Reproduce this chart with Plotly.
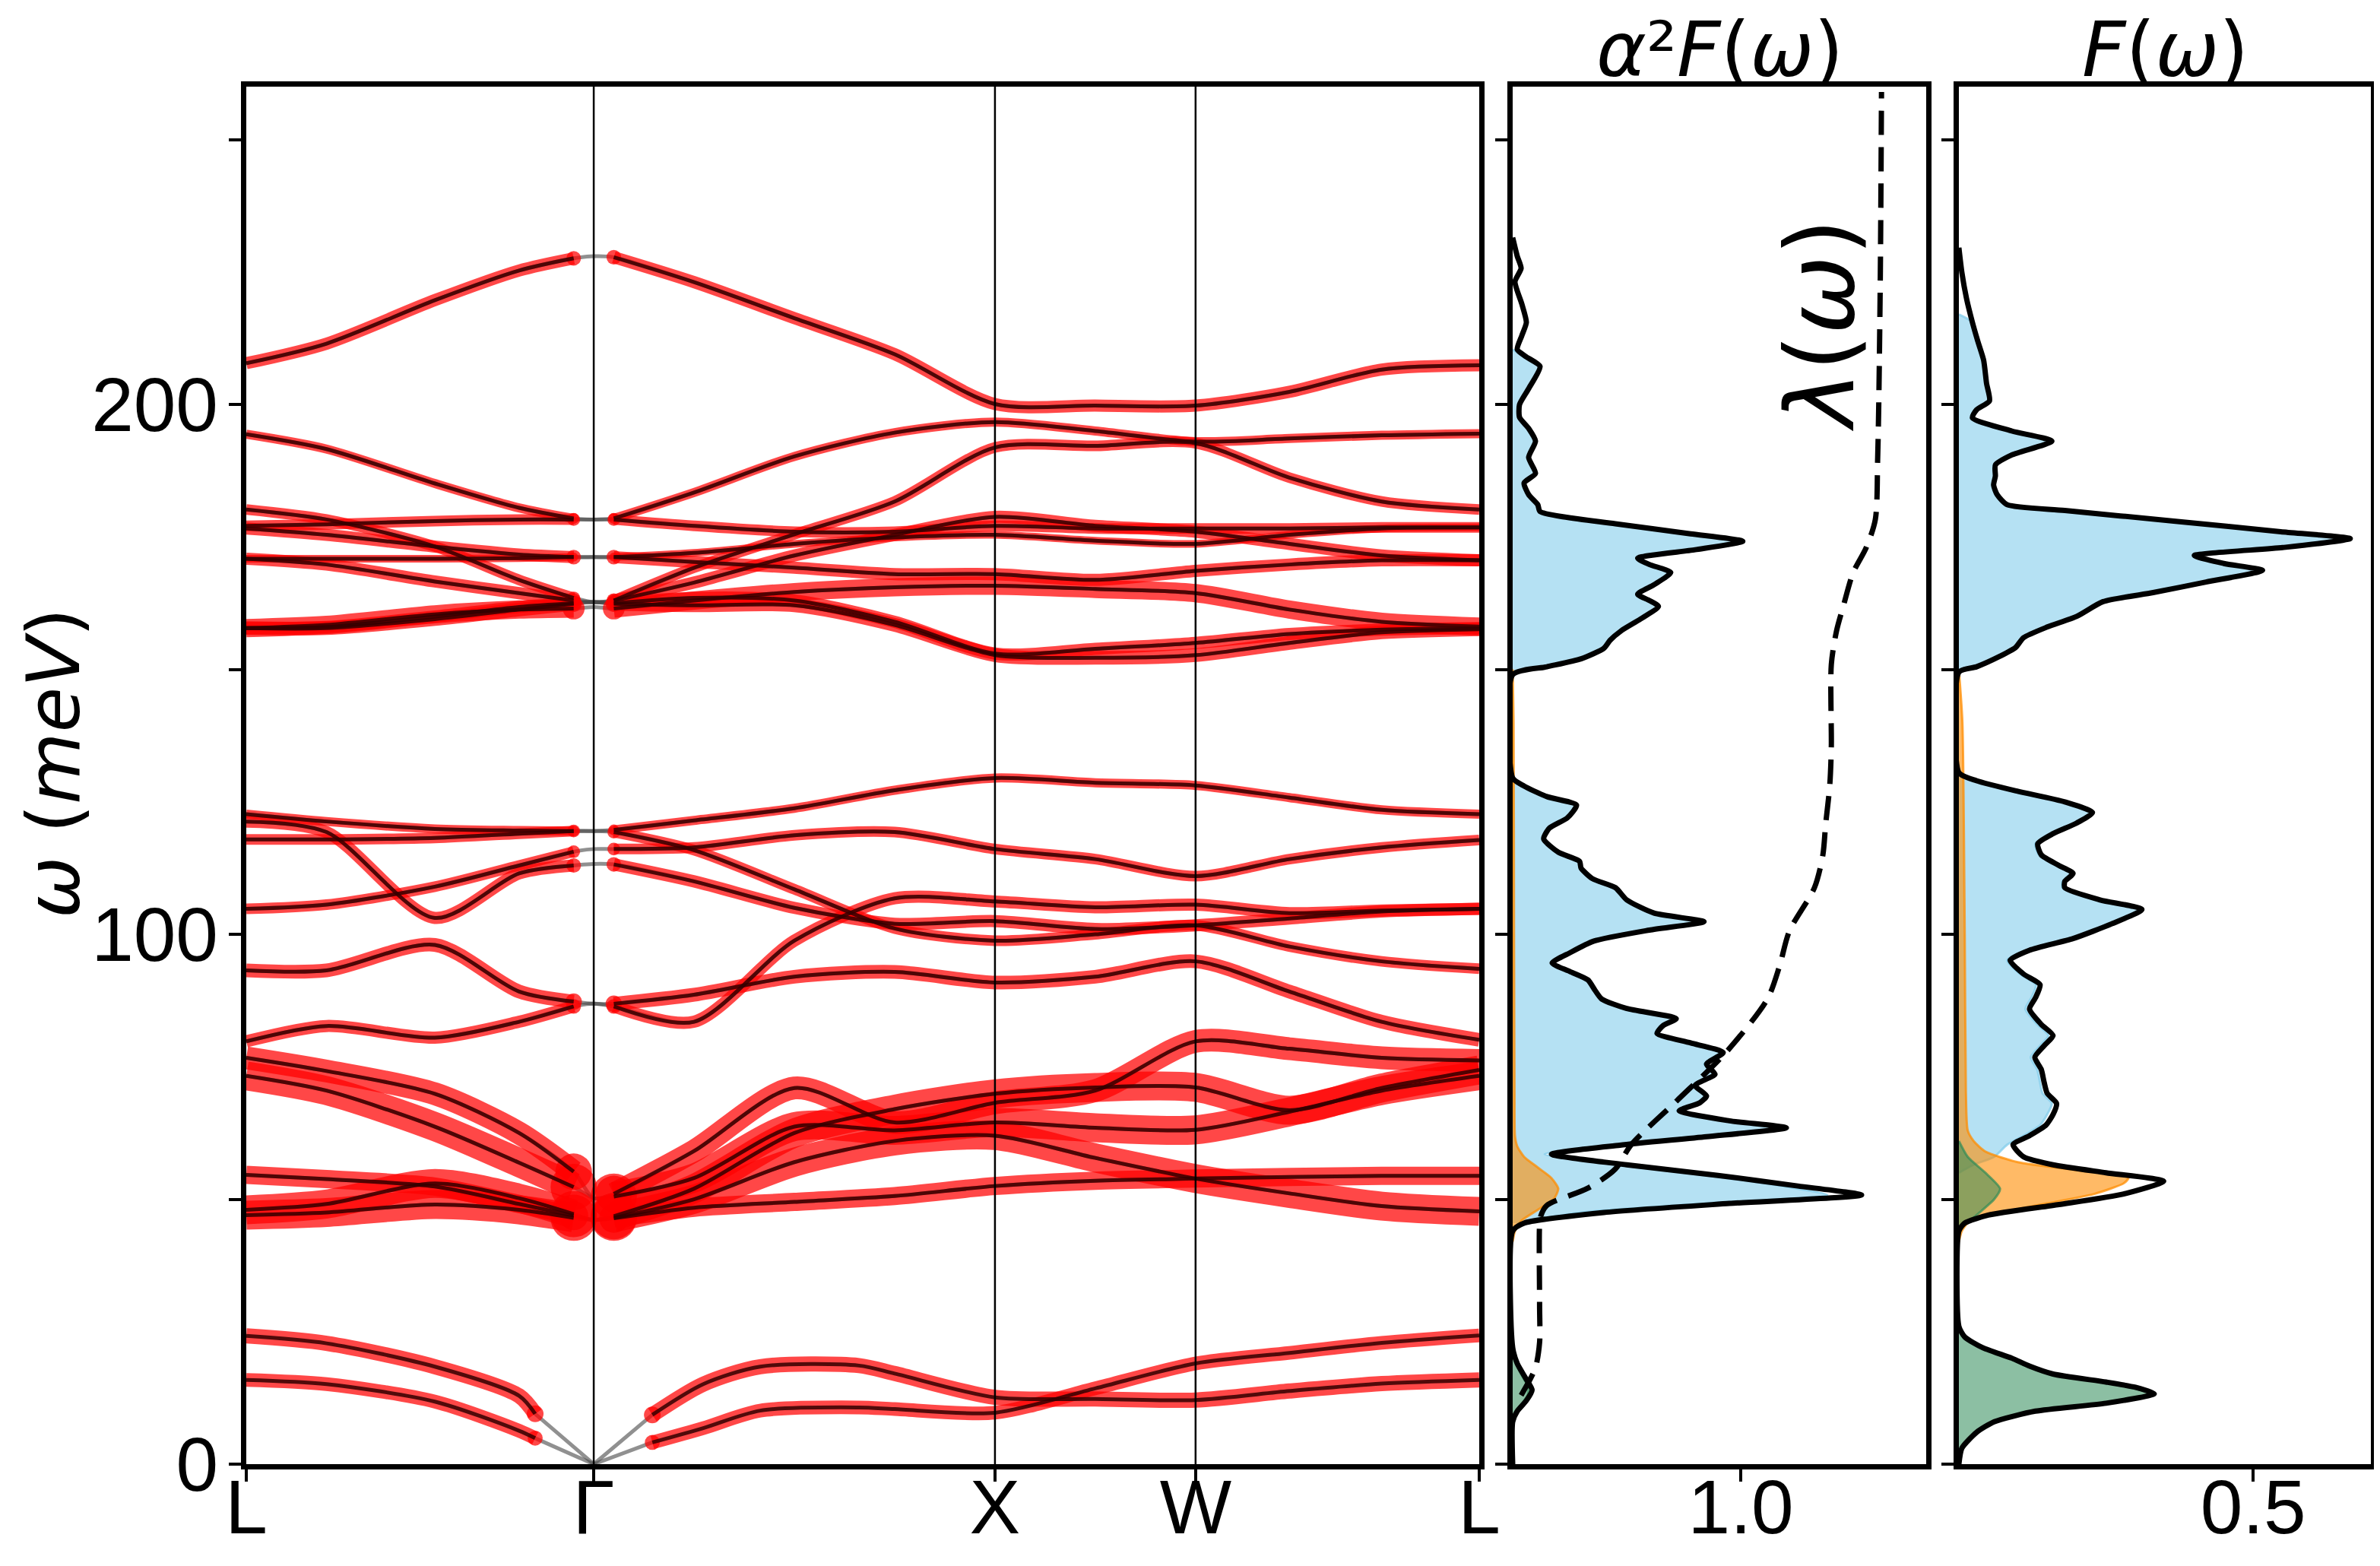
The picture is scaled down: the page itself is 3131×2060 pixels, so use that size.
import plotly.graph_objects as go

# ---------------- data: phonon bands ----------------
K_TICKS = [0.0, 0.866, 1.866, 2.366, 3.073]
K_LABELS = ["L", "Γ", "X", "W", "L"]
K_GAMMA = 0.866
K = [0.0, 0.2, 0.47, 0.68, 0.816, 0.866, 0.916, 1.116, 1.366, 1.616, 1.866, 2.116, 2.366, 2.6, 2.83, 3.073]

BAND_B1 = [207.8, 211.5, 219.7, 225.3, 227.6, 228.0, 227.8, 223.1, 216.3, 209.5, 200.1, 199.8, 199.8, 202.4, 206.6, 207.4]
BAND_B2 = [194.4, 191.6, 185.1, 180.5, 178.5, 178.3, 178.5, 183.4, 190.2, 194.7, 196.7, 195.0, 193.0, 193.6, 194.2, 194.5]
BAND_B3 = [180.2, 178.3, 173.2, 166.9, 163.5, 162.7, 163.0, 169.2, 175.5, 181.7, 191.9, 192.2, 192.7, 186.2, 181.7, 180.2]
BAND_B4 = [177.1, 177.4, 178.0, 178.3, 178.3, 178.3, 178.3, 177.1, 176.0, 176.0, 177.1, 176.6, 176.6, 176.6, 176.8, 176.8]
BAND_B5 = [176.6, 175.4, 173.2, 171.7, 171.2, 171.2, 171.2, 170.3, 169.2, 168.0, 168.0, 166.9, 168.6, 169.8, 170.6, 170.6]
BAND_B6 = [170.9, 170.9, 170.9, 171.0, 171.2, 171.2, 171.2, 172.0, 173.7, 174.9, 175.4, 174.3, 173.7, 175.4, 176.6, 176.8]
BAND_B7 = [170.9, 169.8, 166.6, 164.4, 163.0, 162.7, 163.0, 166.4, 171.5, 175.4, 178.8, 177.1, 176.0, 173.7, 171.5, 170.6]
BAND_B8 = [157.8, 158.4, 160.4, 161.3, 161.5, 161.8, 161.5, 163.0, 164.6, 165.5, 165.8, 165.2, 164.4, 161.3, 159.0, 158.1]
BAND_B9 = [157.8, 157.8, 159.5, 161.3, 162.4, 162.7, 162.4, 162.1, 162.1, 158.4, 152.7, 152.2, 152.7, 155.0, 157.0, 157.6]
BAND_B10 = [157.8, 158.0, 160.0, 161.8, 162.5, 162.7, 162.5, 163.5, 163.0, 159.0, 153.0, 153.9, 155.0, 156.7, 157.5, 157.8]

BAND_M1 = [122.7, 121.3, 119.9, 119.6, 119.5, 119.5, 119.7, 121.5, 123.8, 127.2, 129.5, 128.6, 128.1, 125.8, 123.5, 122.7]
BAND_M2 = [121.3, 119.3, 103.1, 111.5, 113.0, 113.3, 113.2, 110.0, 105.0, 102.0, 102.5, 101.0, 101.7, 103.0, 104.3, 104.8]
BAND_M3 = [117.9, 117.9, 118.2, 119.0, 119.5, 119.5, 119.3, 115.9, 108.5, 101.1, 98.8, 100.0, 101.7, 97.7, 94.9, 93.5]
BAND_M4 = [104.8, 105.6, 109.0, 113.0, 115.6, 116.1, 116.1, 116.4, 118.7, 119.3, 116.1, 114.2, 111.0, 114.2, 116.4, 117.8]
BAND_M5 = [93.2, 93.2, 98.0, 89.2, 87.3, 86.9, 86.9, 88.6, 92.0, 92.9, 90.9, 92.0, 94.9, 89.2, 83.5, 80.1]
BAND_M6 = [79.8, 82.7, 80.5, 83.5, 86.4, 86.9, 86.4, 83.5, 98.8, 106.8, 106.2, 105.1, 105.6, 104.0, 104.5, 104.8]

BAND_F1 = [76.7, 74.2, 69.9, 62.5, 55.2, 50.2, 51.0, 59.1, 71.0, 64.5, 68.2, 70.5, 79.8, 78.4, 76.7, 76.2]
BAND_F2 = [73.3, 70.5, 63.7, 56.9, 52.3, 50.2, 50.5, 54.0, 63.7, 63.0, 64.5, 63.5, 63.1, 66.5, 70.5, 73.3]
BAND_F3 = [54.6, 53.8, 52.4, 49.1, 46.9, 46.1, 46.4, 48.4, 49.5, 50.6, 52.5, 53.5, 53.9, 54.2, 54.4, 54.4]
BAND_F4 = [48.0, 49.1, 53.0, 50.2, 47.2, 46.1, 46.8, 52.0, 62.5, 67.0, 69.9, 71.1, 71.1, 66.8, 71.0, 74.4]
BAND_F5 = [47.0, 47.5, 49.0, 48.0, 46.5, 46.1, 46.5, 50.0, 57.0, 61.0, 62.0, 57.8, 53.9, 51.1, 48.7, 47.7]

OPTICAL_BANDS = [BAND_B1, BAND_B2, BAND_B3, BAND_B4, BAND_B5, BAND_B6, BAND_B7, BAND_B8, BAND_B9, BAND_B10,
                 BAND_M1, BAND_M2, BAND_M3, BAND_M4, BAND_M5, BAND_M6,
                 BAND_F1, BAND_F2, BAND_F3, BAND_F4, BAND_F5]

# acoustic branches (red part away from Gamma, grey part to Gamma)
ACO_K_LEFT = [0.0, 0.2, 0.47, 0.68, 0.72]
ACO_K_RIGHT = [1.012, 1.139, 1.281, 1.527, 1.616, 1.866, 2.116, 2.366, 2.6, 2.83, 3.073]
ACO_GAMMA = 0.0
ACO_A1_LEFT = [24.2, 22.8, 18.4, 12.9, 9.5]
ACO_A1_RIGHT = [9.3, 15.1, 18.4, 18.6, 17.1, 12.6, 12.3, 12.1, 13.8, 15.2, 15.9]
ACO_A2_LEFT = [15.9, 15.1, 11.8, 6.3, 4.9]
ACO_A2_RIGHT = [4.1, 6.8, 10.1, 10.7, 10.4, 9.7, 14.3, 19.0, 21.0, 22.9, 24.3]

# ---------------- data: alpha^2 F(omega) ----------------
A2F_W = [0, 8, 10, 12, 14, 16, 19, 22, 44, 45.5, 47.5, 49.2, 50.8, 52.5, 54.5, 56.5, 58.5, 60.2, 61.8, 63.5,
         64.8, 66.7, 68.2, 69.5, 71.5, 73.6, 75.5, 77.7, 79.5, 81.3, 82.8, 84.1, 86, 87.8, 89.5, 91.4, 93,
         94.6, 96.5, 98.7, 100.8, 102.4, 104, 106.5, 108.8, 110.5, 112.5, 113.8, 115.5, 118, 120, 122, 124.4,
         126, 128, 129.5, 149, 150.5, 152, 154, 155.5, 157.3, 159.5, 161.9, 163, 164.2, 166, 168.3, 169.8,
         171, 172.6, 174.2, 175.6, 177.5, 179.8, 181.1, 183, 185.2, 187, 190, 193.1, 195.5, 197.6, 200, 203,
         207.2, 209, 210.4, 213, 215.5, 219, 223.2, 225.7, 228, 231.5]
A2F_TOT = [0, 0, 0.02, 0.06, 0.085, 0.06, 0.02, 0, 0, 0.05, 0.4, 0.95, 1.53, 1.25, 0.9, 0.5, 0.17, 0.47, 0.85, 1.2,
           0.95, 0.73, 0.82, 0.85, 0.80, 0.887, 0.85, 0.923, 0.78, 0.633, 0.66, 0.717, 0.5, 0.39, 0.36, 0.33, 0.25,
           0.173, 0.25, 0.354, 0.6, 0.839, 0.62, 0.5, 0.451, 0.35, 0.30, 0.293, 0.2, 0.136, 0.16, 0.24, 0.28,
           0.15, 0.05, 0, 0, 0.15, 0.3, 0.4, 0.427, 0.476, 0.56, 0.639, 0.6, 0.548, 0.62, 0.693, 0.6,
           0.548, 0.8, 1.009, 0.78, 0.45, 0.12, 0.11, 0.07, 0.05, 0.1, 0.07, 0.1, 0.07, 0.03, 0.03, 0.07,
           0.12, 0.06, 0.02, 0.04, 0.06, 0.04, 0.01, 0.037, 0.02, 0]
A2F_BLUE_W = [45.5, 47.5, 49.2, 50.8, 52.5, 54.5, 56.5, 58.5, 60.2, 61.8, 63.5, 64.8, 66.7, 68.2, 69.5, 71.5, 73.6,
              75.5, 77.7, 79.5, 81.3, 82.8, 84.1, 86, 87.8, 89.5, 91.4, 93, 94.6, 96.5, 98.7, 100.8, 102.4, 104,
              106.5, 108.8, 110.5, 112.5, 113.8, 115.5, 118, 120, 122, 124.4, 126, 128, 129.5, 149, 150.5, 152,
              154, 155.5, 157.3, 159.5, 161.9, 163, 164.2, 166, 168.3, 169.8, 171, 172.6, 174.2, 175.6, 177.5,
              179.8, 181.1, 183, 185.2, 187, 190, 193.1, 195.5, 197.6, 200, 203, 207.2, 209, 210.4]
A2F_BLUE = [0.02, 0.3, 0.85, 1.38, 1.18, 0.85, 0.46, 0.14, 0.45, 0.83, 1.18, 0.94, 0.72, 0.81, 0.84, 0.79, 0.88,
            0.84, 0.91, 0.77, 0.625, 0.65, 0.71, 0.49, 0.385, 0.355, 0.325, 0.245, 0.17, 0.245, 0.35, 0.595,
            0.83, 0.615, 0.495, 0.447, 0.345, 0.296, 0.29, 0.197, 0.133, 0.157, 0.237, 0.277, 0.147, 0.048, 0,
            0, 0.15, 0.3, 0.4, 0.427, 0.476, 0.56, 0.639, 0.6, 0.548, 0.62, 0.693, 0.6, 0.548, 0.8, 1.0, 0.775,
            0.445, 0.117, 0.107, 0.067, 0.047, 0.097, 0.067, 0.097, 0.067, 0.027, 0.027, 0.067, 0.117, 0.05, 0]
A2F_OR_W = [42, 44, 46, 48, 50, 52, 54, 56, 58, 60, 62, 70, 100, 140, 150]
A2F_OR = [0, 0.01, 0.04, 0.11, 0.18, 0.2, 0.17, 0.11, 0.05, 0.02, 0.01, 0.008, 0.006, 0.004, 0]
A2F_GR_W = [6, 9, 11, 13, 14.5, 16, 18, 20, 22]
A2F_GR = [0, 0.01, 0.035, 0.065, 0.07, 0.05, 0.025, 0.008, 0]

LAMBDA_W = [13.0, 15.5, 18.2, 23, 30, 45.3, 46.8, 48.8, 52.1, 55.7, 60.3, 68.6, 77.8, 87.8, 94, 100.6, 108.8,
            115, 120.7, 128, 135.3, 150.9, 157.3, 162, 168.3, 173, 178.3, 189.4, 200, 225, 259]
LAMBDA = [0.037, 0.07, 0.1, 0.118, 0.118, 0.118, 0.123, 0.149, 0.33, 0.45, 0.52, 0.72, 0.937, 1.117, 1.17, 1.213,
          1.323, 1.36, 1.372, 1.39, 1.397, 1.397, 1.42, 1.45, 1.493, 1.55, 1.59, 1.60, 1.605, 1.612, 1.617]

# ---------------- data: F(omega) ----------------
F_W = [0, 3, 6, 8, 10, 11.5, 13.3, 14.5, 15.5, 17, 18.5, 20, 22, 24, 26, 44, 45.5, 47, 49, 51, 53.4, 55, 56.5,
       58, 60.3, 62, 64, 66, 68.1, 70, 72, 74.5, 76.8, 79, 80.9, 83, 85.9, 88, 90.5, 92.5, 95.1, 97, 99.2, 102,
       104.7, 106.5, 108.8, 110, 111.5, 113, 115, 117.1, 119, 121, 123, 125, 127, 129, 130.5, 149.5, 150.5,
       152.5, 154.1, 156, 158, 160, 162.8, 164.5, 166.5, 168.7, 170, 171.5, 173, 174.7, 176, 178, 180, 181.1,
       183, 184.8, 186.5, 188.6, 190.5, 193.1, 195, 197.5, 199, 200.7, 204, 208.4, 212, 215.5, 220, 225, 229.6]
F_TOT = [0, 0.005, 0.03, 0.06, 0.13, 0.25, 0.332, 0.3, 0.25, 0.16, 0.12, 0.09, 0.04, 0.01, 0, 0, 0.01, 0.05,
         0.17, 0.28, 0.348, 0.25, 0.16, 0.11, 0.092, 0.12, 0.148, 0.16, 0.166, 0.15, 0.145, 0.14, 0.129, 0.145,
         0.16, 0.14, 0.12, 0.13, 0.138, 0.11, 0.087, 0.12, 0.194, 0.26, 0.311, 0.24, 0.18, 0.18, 0.194, 0.17,
         0.14, 0.134, 0.16, 0.2, 0.227, 0.18, 0.1, 0.03, 0, 0, 0.03, 0.07, 0.096, 0.11, 0.15, 0.2, 0.245, 0.33,
         0.42, 0.516, 0.45, 0.40, 0.55, 0.665, 0.547, 0.365, 0.18, 0.082, 0.065, 0.059, 0.062, 0.062, 0.09,
         0.158, 0.09, 0.023, 0.03, 0.052, 0.047, 0.042, 0.032, 0.023, 0.013, 0.005, 0]
F_BLUE_W = [55, 56.5, 58, 60.3, 62, 64, 66, 68.1, 70, 72, 74.5, 76.8, 79, 80.9, 83, 85.9, 88, 90.5, 92.5, 95.1,
            97, 99.2, 102, 104.7, 106.5, 108.8, 110, 111.5, 113, 115, 117.1, 119, 121, 123, 125, 127, 129, 130.5,
            149.5, 150.5, 152.5, 154.1, 156, 158, 160, 162.8, 164.5, 166.5, 168.7, 170, 171.5, 173, 174.7, 176,
            178, 180, 181.1, 183, 184.8, 186.5, 188.6, 190.5, 193.1, 195, 197.5, 199, 200.7, 204, 208.4, 212,
            215.5, 217]
F_BLUE = [0, 0.025, 0.06, 0.082, 0.11, 0.138, 0.15, 0.158, 0.142, 0.138, 0.133, 0.122, 0.138, 0.152, 0.133,
          0.113, 0.123, 0.131, 0.104, 0.082, 0.115, 0.19, 0.256, 0.307, 0.236, 0.176, 0.176, 0.19, 0.166, 0.136,
          0.13, 0.156, 0.196, 0.223, 0.176, 0.096, 0.027, 0, 0, 0.03, 0.07, 0.096, 0.11, 0.15, 0.2, 0.245, 0.33,
          0.42, 0.516, 0.45, 0.40, 0.55, 0.665, 0.547, 0.365, 0.18, 0.082, 0.065, 0.059, 0.062, 0.062, 0.09,
          0.158, 0.09, 0.023, 0.03, 0.052, 0.047, 0.042, 0.032, 0.023, 0]
F_OR_W = [42, 44, 45.5, 47, 49, 51, 53, 54, 55.5, 57, 59, 61, 63, 70, 100, 140, 150]
F_OR = [0, 0.005, 0.015, 0.05, 0.14, 0.23, 0.28, 0.288, 0.2, 0.1, 0.045, 0.025, 0.015, 0.012, 0.01, 0.006, 0]
F_GR_W = [0, 3, 6, 8, 10, 11.5, 13.3, 14.5, 15.5, 17, 18.5, 20, 22, 24, 26, 44, 47, 50, 52, 55, 58, 61]
F_GR = [0, 0.005, 0.03, 0.06, 0.13, 0.25, 0.325, 0.29, 0.24, 0.155, 0.115, 0.085, 0.038, 0.01, 0, 0, 0.03,
        0.06, 0.07, 0.045, 0.015, 0]

Y_TICKS = [0, 100, 200]
Y_TICK_TEXT = ["0", "100", "200"]
Y_MINOR_TICKS = [50, 150, 250]

# ---------------- styles ----------------
OPT_WIDTHS = [16, 12, 14, 14, 16, 10, 16, 24, 18, 16,
              12, 16, 14, 14, 18, 16,
              30, 38, 24, 38, 38]
CAP_SCALE = [1.2] * 16 + [1.6] * 5
ACO_WIDTHS = [20, 18]
RED = "rgba(255,0,0,0.72)"
DARK = "rgba(50,0,0,0.85)"
GREY = "rgba(70,70,70,0.6)"
BLUE_F = "rgba(135,206,235,0.62)"
ORANGE_F = "rgba(255,140,0,0.6)"
GREEN_F = "rgba(46,139,87,0.55)"
TICK_FONT = dict(family="Liberation Sans, Arial, sans-serif", size=100, color="black")
MATH_FONT = dict(family="DejaVu Sans, sans-serif", size=100, color="black")

# page geometry: the browser's default 8px body margin offsets the figure
PAGE_W, PAGE_H, BODY_MARGIN = 3131, 2060, 8
W_PX, H_PX = PAGE_W - BODY_MARGIN, PAGE_H - BODY_MARGIN


def fx(p):
    return (p - BODY_MARGIN) / W_PX


def fy(p):
    return (PAGE_H - p) / H_PX


fig = go.Figure()
gi = K.index(K_GAMMA)


def gapped(seq):
    return list(seq[:gi]) + [None] + list(seq[gi + 1:])


SPL = dict(shape="spline", smoothing=0.8)

# grey underlay of every band (visible near Gamma)
for band in OPTICAL_BANDS:
    fig.add_trace(go.Scatter(x=K, y=band, mode="lines", line=dict(color=GREY, width=5, **SPL),
                             hoverinfo="skip"))
for left, right in [(ACO_A1_LEFT, ACO_A1_RIGHT), (ACO_A2_LEFT, ACO_A2_RIGHT)]:
    fig.add_trace(go.Scatter(x=[ACO_K_LEFT[-1], K_GAMMA, ACO_K_RIGHT[0]],
                             y=[left[-1], ACO_GAMMA, right[0]], mode="lines",
                             line=dict(color=GREY, width=5), hoverinfo="skip"))

# red fat bands with round ends next to Gamma
for band, w, cs in zip(OPTICAL_BANDS, OPT_WIDTHS, CAP_SCALE):
    fig.add_trace(go.Scatter(x=gapped(K), y=gapped(band), mode="lines", connectgaps=False,
                             line=dict(color=RED, width=w, **SPL), hoverinfo="skip"))
    fig.add_trace(go.Scatter(x=[K[gi - 1], K[gi + 1]], y=[band[gi - 1], band[gi + 1]], mode="markers",
                             marker=dict(color=RED, size=w * cs, line=dict(width=0)), hoverinfo="skip"))
for (left, right), w in zip([(ACO_A1_LEFT, ACO_A1_RIGHT), (ACO_A2_LEFT, ACO_A2_RIGHT)], ACO_WIDTHS):
    for kk, vv in [(ACO_K_LEFT, left), (ACO_K_RIGHT, right)]:
        fig.add_trace(go.Scatter(x=kk, y=vv, mode="lines", line=dict(color=RED, width=w, **SPL),
                                 hoverinfo="skip"))
    fig.add_trace(go.Scatter(x=[ACO_K_LEFT[-1], ACO_K_RIGHT[0]], y=[left[-1], right[0]], mode="markers",
                             marker=dict(color=RED, size=w * 1.1, line=dict(width=0)), hoverinfo="skip"))

# dark centre lines
for band in OPTICAL_BANDS:
    fig.add_trace(go.Scatter(x=gapped(K), y=gapped(band), mode="lines", connectgaps=False,
                             line=dict(color=DARK, width=5, **SPL), hoverinfo="skip"))
for left, right in [(ACO_A1_LEFT, ACO_A1_RIGHT), (ACO_A2_LEFT, ACO_A2_RIGHT)]:
    for kk, vv in [(ACO_K_LEFT, left), (ACO_K_RIGHT, right)]:
        fig.add_trace(go.Scatter(x=kk, y=vv, mode="lines", line=dict(color=DARK, width=5, **SPL),
                                 hoverinfo="skip"))


# ---------------- DOS panels ----------------
def fill_trace(xv, yv, fc, lc, ax):
    return go.Scatter(x=xv, y=yv, mode="lines", fill="tozerox", fillcolor=fc,
                      line=dict(color=lc, width=3, shape="spline", smoothing=0.6),
                      xaxis="x" + ax, yaxis="y" + ax, hoverinfo="skip")


fig.add_trace(fill_trace(A2F_BLUE, A2F_BLUE_W, BLUE_F, "rgba(135,206,235,0.8)", "2"))
fig.add_trace(fill_trace(A2F_OR, A2F_OR_W, ORANGE_F, "rgba(255,140,0,0.75)", "2"))
fig.add_trace(fill_trace(A2F_GR, A2F_GR_W, GREEN_F, "rgba(46,139,87,0.7)", "2"))
fig.add_trace(go.Scatter(x=A2F_TOT, y=A2F_W, mode="lines", xaxis="x2", yaxis="y2",
                         line=dict(color="black", width=7, shape="spline", smoothing=0.6), hoverinfo="skip"))
fig.add_trace(go.Scatter(x=LAMBDA, y=LAMBDA_W, mode="lines", xaxis="x2", yaxis="y2",
                         line=dict(color="black", width=7, dash="32px,16px", shape="spline", smoothing=0.8),
                         hoverinfo="skip"))

fig.add_trace(fill_trace(F_BLUE, F_BLUE_W, BLUE_F, "rgba(135,206,235,0.8)", "3"))
fig.add_trace(fill_trace(F_OR, F_OR_W, ORANGE_F, "rgba(255,140,0,0.75)", "3"))
fig.add_trace(fill_trace(F_GR, F_GR_W, GREEN_F, "rgba(46,139,87,0.7)", "3"))
fig.add_trace(go.Scatter(x=F_TOT, y=F_W, mode="lines", xaxis="x3", yaxis="y3",
                         line=dict(color="black", width=7, shape="spline", smoothing=0.6), hoverinfo="skip"))

# ---------------- layout ----------------
Y_DOM = [fy(1926), fy(114)]
X1_DOM = [fx(324), fx(1946)]
X2_DOM = [fx(1990), fx(2534)]
X3_DOM = [fx(2577), fx(3119)]

axis_common = dict(showline=True, linewidth=7, linecolor="black", mirror=True, showgrid=False,
                   zeroline=False, ticks="outside", ticklen=16, tickwidth=4, tickcolor="black",
                   tickfont=TICK_FONT, automargin=False)
x_common = dict(axis_common, ticklabelstandoff=-52)
y_common = dict(axis_common, tickvals=Y_TICKS, range=[0, 260], domain=Y_DOM,
                minor=dict(tickvals=Y_MINOR_TICKS, ticks="outside", ticklen=16, tickwidth=4,
                           tickcolor="black", showgrid=False))

fig.update_layout(
    width=W_PX, height=H_PX, margin=dict(l=0, r=0, t=0, b=0, autoexpand=False),
    paper_bgcolor="white", plot_bgcolor="white", showlegend=False,
    xaxis=dict(domain=X1_DOM, range=[0, 3.073], tickvals=K_TICKS, ticktext=K_LABELS, anchor="y", **x_common),
    yaxis=dict(ticktext=Y_TICK_TEXT, anchor="x", ticklabelstandoff=-6, **y_common),
    xaxis2=dict(domain=X2_DOM, range=[0, 1.813], tickvals=[1.0], ticktext=["1.0"], anchor="y2", **x_common),
    yaxis2=dict(showticklabels=False, anchor="x2", **y_common),
    xaxis3=dict(domain=X3_DOM, range=[0, 0.70], tickvals=[0.5], ticktext=["0.5"], anchor="y3", **x_common),
    yaxis3=dict(showticklabels=False, anchor="x3", **y_common),
)

for kv in K_TICKS[1:-1]:
    fig.add_shape(type="line", xref="x", yref="y domain", x0=kv, x1=kv, y0=0, y1=1,
                  line=dict(color="black", width=2.5), layer="above")

fig.add_annotation(text="<i>α</i>²<i>F</i>(<i>ω</i>)", xref="paper", yref="paper",
                   x=(X2_DOM[0] + X2_DOM[1]) / 2, y=fy(126), xanchor="center", yanchor="bottom",
                   showarrow=False, font=MATH_FONT)
fig.add_annotation(text="<i>F</i>(<i>ω</i>)", xref="paper", yref="paper",
                   x=(X3_DOM[0] + X3_DOM[1]) / 2, y=fy(126), xanchor="center", yanchor="bottom",
                   showarrow=False, font=MATH_FONT)
fig.add_annotation(text="<i>λ</i>(<i>ω</i>)", xref="x2", yref="y2", x=1.35, y=215, textangle=-90,
                   xanchor="center", yanchor="middle", showarrow=False,
                   font=dict(family="DejaVu Sans, sans-serif", size=124, color="black"))
fig.add_annotation(text="<i>ω</i> (<i>meV</i>)", xref="paper", yref="paper", x=fx(70), y=fy(1004),
                   textangle=-90, xanchor="center", yanchor="middle", showarrow=False,
                   font=dict(family="DejaVu Sans, sans-serif", size=97, color="black"))

fig.write_html("out.html")
